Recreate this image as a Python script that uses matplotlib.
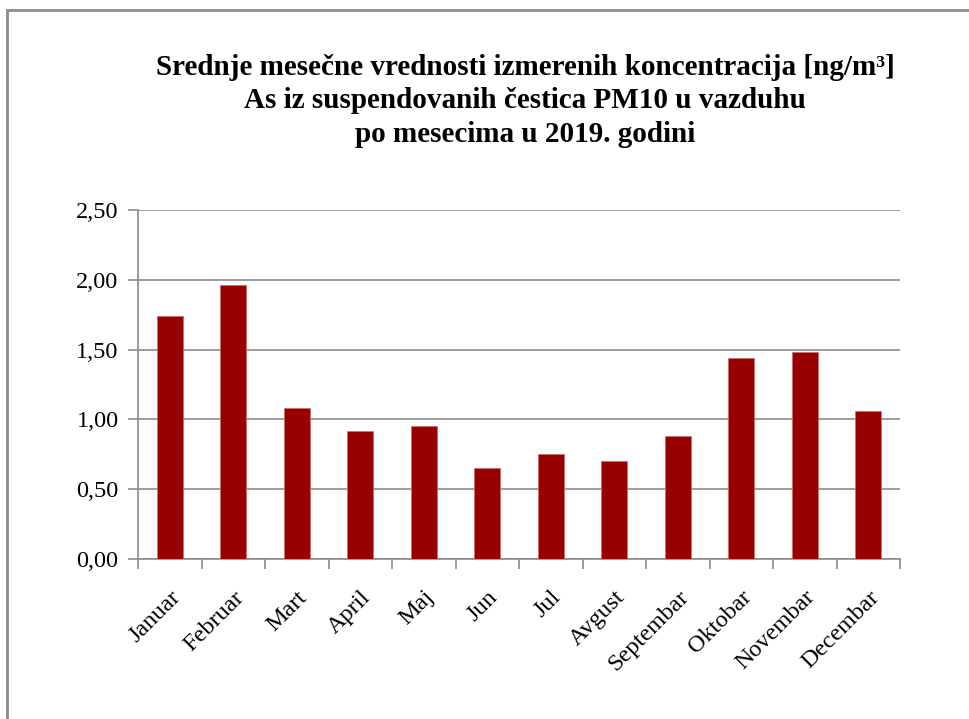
import matplotlib
matplotlib.use('Agg')
import matplotlib.pyplot as plt
from matplotlib.patches import Rectangle

months = ['Januar', 'Februar', 'Mart', 'April', 'Maj', 'Jun', 'Jul',
          'Avgust', 'Septembar', 'Oktobar', 'Novembar', 'Decembar']
values = [1.74, 1.96, 1.08, 0.92, 0.95, 0.65, 0.75, 0.70, 0.88, 1.44, 1.48, 1.06]
y_ticks = [0.0, 0.5, 1.0, 1.5, 2.0, 2.5]
y_labels = ['0,00', '0,50', '1,00', '1,50', '2,00', '2,50']
title = ('Srednje mesečne vrednosti izmerenih koncentracija [ng/m³]\n'
         'As iz suspendovanih čestica PM10 u vazduhu\n'
         'po mesecima u 2019. godini')

plt.rcParams['font.family'] = ['Liberation Serif', 'DejaVu Serif']

fig = plt.figure(figsize=(9.69, 7.19), dpi=100)
fig.patch.set_facecolor('white')

# grey frame round the chart area, open on right and bottom
fig.patches.append(Rectangle((7 / 969, -0.05), 1.1, 1 - 10 / 719 + 0.05,
                             transform=fig.transFigure, fill=False,
                             edgecolor='#8c8c8c', linewidth=2))

ax = fig.add_axes([138 / 969, 1 - 559 / 719, 762 / 969, 349 / 719])
x = list(range(len(months)))
ax.bar(x, values, width=0.41, color='#990000', edgecolor='#c87070',
       linewidth=0.6, zorder=3)

ax.set_xlim(-0.5, len(months) - 0.5)
ax.set_ylim(0, 2.5)
ax.set_yticks(y_ticks)
ax.set_yticklabels(y_labels, fontsize=17.5)
ax.yaxis.grid(True, color='#8c8c8c', linewidth=1.2, zorder=0)

ax.set_xticks(x)
ax.set_xticklabels(months, fontsize=17.5, rotation=45, ha='right',
                   rotation_mode='anchor')
ax.set_xticks([i - 0.5 for i in range(len(months) + 1)], minor=True)
ax.tick_params(axis='x', which='major', length=0, pad=20)
ax.tick_params(axis='x', which='minor', length=7, color='#8c8c8c', width=1.2)
ax.tick_params(axis='y', length=7, color='#8c8c8c', width=1.2, pad=7)

for s in ['top', 'right']:
    ax.spines[s].set_visible(False)
for s in ['left', 'bottom']:
    ax.spines[s].set_color('#8c8c8c')
    ax.spines[s].set_linewidth(1.2)

fig.text(525 / 969, 1 - 54 / 719, title, ha='center', va='top',
         fontsize=21, fontweight='bold', linespacing=1.3)

fig.savefig('out.png', dpi=100, facecolor='white')
